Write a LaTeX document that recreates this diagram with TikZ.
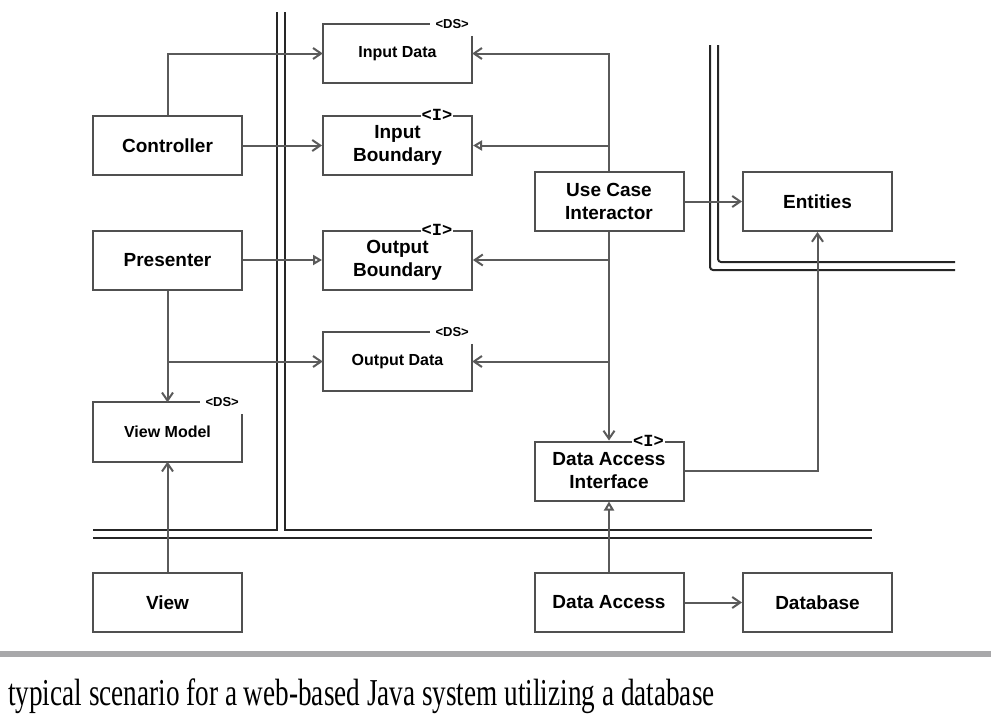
\documentclass[tikz,border=0pt]{standalone}
\usepackage{fontspec}
\setmainfont{Liberation Serif}
\setsansfont{Liberation Sans}
\setmonofont{Liberation Mono}
\usetikzlibrary{arrows.meta}
\definecolor{boxgray}{HTML}{505050}
\definecolor{linegray}{HTML}{5A5A5A}
\definecolor{rulegray}{HTML}{A8A8AA}
\tikzset{
  box/.style={minimum width=149pt, minimum height=59pt, inner sep=0pt, align=center,
    font=\sffamily\bfseries\fontsize{19}{23}\selectfont},
  framed/.style={box, draw=boxgray, line width=2pt},
  smallbox/.style={box, font=\sffamily\bfseries\fontsize{16}{18}\selectfont},
  frame/.style={draw=boxgray, line width=2pt},
  dsmark/.style={inner sep=1pt, font=\sffamily\bfseries\fontsize{13}{13}\selectfont},
  imark/.style={inner sep=1pt, fill=white, font=\ttfamily\bfseries\fontsize{17}{17}\selectfont},
  conn/.style={draw=linegray, line width=2pt},
  barb/.style={conn, -{Straight Barb[length=8pt,width=11pt]}},
  impl/.style={conn, -{Triangle[open,length=9pt,width=10pt,fill=white]}},
  wall/.style={draw=black!85, line width=2pt},
}
\begin{document}
\begin{tikzpicture}[x=1pt,y=-1pt]
\useasboundingbox (0,0) rectangle (991,720);

% boundaries
\draw[wall] (277,12) -- (277,530) -- (93,530);
\draw[wall] (285,12) -- (285,530) -- (872,530);
\draw[wall] (93,538) -- (872,538);
\draw[wall, rounded corners=3pt] (710,45) -- (710,270) -- (955,270);
\draw[wall, rounded corners=3pt] (718,45) -- (718,262) -- (955,262);

% boxes
\node[framed] (ctrl) at (167.5,145.5) {Controller};
\node[framed] (pres) at (167.5,260) {Presenter};
\node[smallbox] (vm) at (167.5,432) {View Model};
\node[framed] (view) at (167.5,602.5) {View};

\node[smallbox] (indata) at (397.5,53.5) {Input Data};
\node[framed] (inbound) at (397.5,145.5) {Input\\Boundary};
\node[framed] (outbound) at (397.5,260) {Output\\Boundary};
\node[smallbox] (outdata) at (397.5,361.5) {Output Data};

\node[framed] (uci) at (609,201.5) {Use Case\\Interactor};
\node[framed] (dai) at (609,471) {Data Access\\Interface};
\node[framed] (da) at (609,602.5) {Data Access};

\node[framed] (ent) at (817.5,201.5) {Entities};
\node[framed] (db) at (817.5,602.5) {Database};

% data structure outlines
\foreach \n in {indata,outdata,vm}
  \draw[frame] ([yshift=-12pt]\n.north east) -- (\n.south east) -- (\n.south west)
    -- (\n.north west) -- ([xshift=-42pt]\n.north east);
\node[dsmark] (indata-ds) at ([xshift=-20pt]indata.north east) {<DS>};
\node[dsmark] (outdata-ds) at ([xshift=-20pt]outdata.north east) {<DS>};
\node[dsmark] (vm-ds) at ([xshift=-20pt]vm.north east) {<DS>};

% interface marks
\node[imark] (inbound-i) at ([xshift=-36pt]inbound.north east) {<I>};
\node[imark] (outbound-i) at ([xshift=-36pt]outbound.north east) {<I>};
\node[imark] (dai-i) at ([xshift=-36pt]dai.north east) {<I>};

% connectors
\draw[barb] (ctrl.north) |- (indata.west);
\draw[barb] (ctrl) -- (inbound);
\draw[impl] (pres) -- (outbound);
\draw[barb] (pres.south) -- (vm.north);
\draw[barb] (pres.south) |- (outdata.west);
\draw[barb] (view) -- (vm);

\draw[barb] (uci.north) |- (indata.east);
\draw[impl] (uci.north) |- (inbound.east);
\draw[barb] (uci.south) |- (outbound.east);
\draw[barb] (uci.south) |- (outdata.east);
\draw[barb] (uci.south) -- (dai.north);
\draw[barb] (uci) -- (ent);
\draw[barb] (dai.east) -| (ent.south);
\draw[impl] (da) -- (dai);
\draw[barb] (da) -- (db);

% caption
\fill[rulegray] (0,651) rectangle (991,657);
\node[anchor=base west, inner sep=0pt, font=\fontsize{38}{38}\selectfont] (caption) at (8,705)
  {\scalebox{0.716}[1]{typical scenario for a web-based Java system utilizing a database}};
\end{tikzpicture}
\end{document}
